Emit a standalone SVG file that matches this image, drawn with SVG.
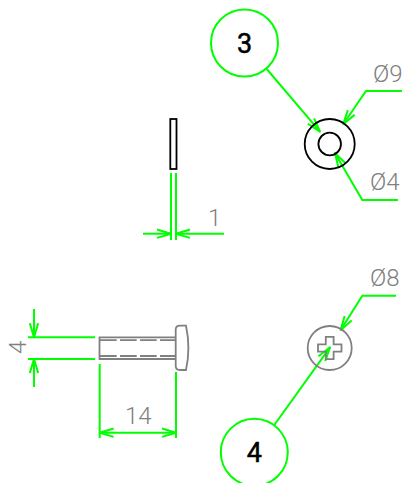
<svg xmlns="http://www.w3.org/2000/svg" width="403" height="483" viewBox="0 0 403 483">
<defs>
<marker id="a" viewBox="-15 -5 17 10" refX="0" refY="0" markerWidth="17" markerHeight="10" markerUnits="userSpaceOnUse" orient="auto-start-reverse" overflow="visible"><path d="M-14-4.200L0 0L-14 4.200" fill="none" stroke="#0f0" stroke-width="2" stroke-linejoin="round"/></marker>
</defs>
<style>
.g{fill:none;stroke:#0f0;stroke-width:2}
.k{fill:none;stroke:#000;stroke-width:1.800}
.y{fill:none;stroke:#808080;stroke-width:1.800}
.t{font-family:"Roboto","Liberation Sans",sans-serif;font-weight:300;font-size:24px;fill:#808080}
.b{font-family:"Roboto","Liberation Sans",sans-serif;font-weight:400;font-size:27px;fill:#000;stroke:#000;stroke-width:.5px;text-anchor:middle}
</style>
<rect width="403" height="483" fill="#fff"/>
<g id="connectors">
<path class="g" d="M266.700 69L320 131.700" marker-end="url(#a)"/>
<path class="g" d="M402 91H366L343.300 124" marker-end="url(#a)"/>
<path class="g" d="M398 200H362.300L335 153.300" marker-end="url(#a)"/>
<path class="g" d="M171 173V240M176 173V240"/>
<path class="g" d="M143 233.700H171" marker-end="url(#a)"/>
<path class="g" d="M224 233.700H176" marker-end="url(#a)"/>
<path class="g" d="M28 337.300H95M28 359H95"/>
<path class="g" d="M34 309V337.300" marker-end="url(#a)"/>
<path class="g" d="M34 387V359" marker-end="url(#a)"/>
<path class="g" d="M99.700 364V438M176 372V438"/>
<path class="g" d="M99.700 432.700H176" marker-start="url(#a)" marker-end="url(#a)"/>
<path class="g" d="M274.300 425L330 347.300" marker-end="url(#a)"/>
<path class="g" d="M396 295.700H362.300L340.700 330" marker-end="url(#a)"/>
</g>
<g id="balloon-3"><circle class="g" cx="244.500" cy="43" r="33.500"/><text class="b" x="244.500" y="52.500">3</text></g>
<g id="balloon-4"><circle class="g" cx="254.300" cy="452.300" r="33.500"/><text class="b" x="254.300" y="461.500">4</text></g>
<g id="washer-front"><circle class="k" cx="329.700" cy="144" r="25"/><circle class="k" cx="329.700" cy="144" r="11.300"/></g>
<g id="washer-side"><rect class="k" x="170.300" y="119" width="6.200" height="50"/></g>
<g id="screw-side">
<path class="y" d="M175.500 337.300H99.500V359H175.500"/>
<path class="y" stroke-dasharray="16.700 3.300" d="M100 340.200H175.500M100 356H175.500"/>
<path class="y" d="M180 325.700H186Q190.800 348 186 370H180Q175.700 370 175.700 366V329.700Q175.700 325.700 180 325.700Z"/>
</g>
<g id="screw-front"><circle class="y" cx="329.700" cy="348" r="22"/>
<path class="y" d="M325.800 336.800H333.600V344.300H341.500V351.700H333.600V359.200H325.800V351.700H318V344.300H325.800Z" stroke-width="1.300"/></g>
<g id="labels">
<text class="t" x="373" y="82">Ø9</text>
<text class="t" x="370" y="190">Ø4</text>
<text class="t" x="370" y="286">Ø8</text>
<text class="t" x="208" y="226">1</text>
<text class="t" x="125" y="424">14</text>
<text class="t" transform="translate(26 354) rotate(-90)">4</text>
</g>
</svg>
